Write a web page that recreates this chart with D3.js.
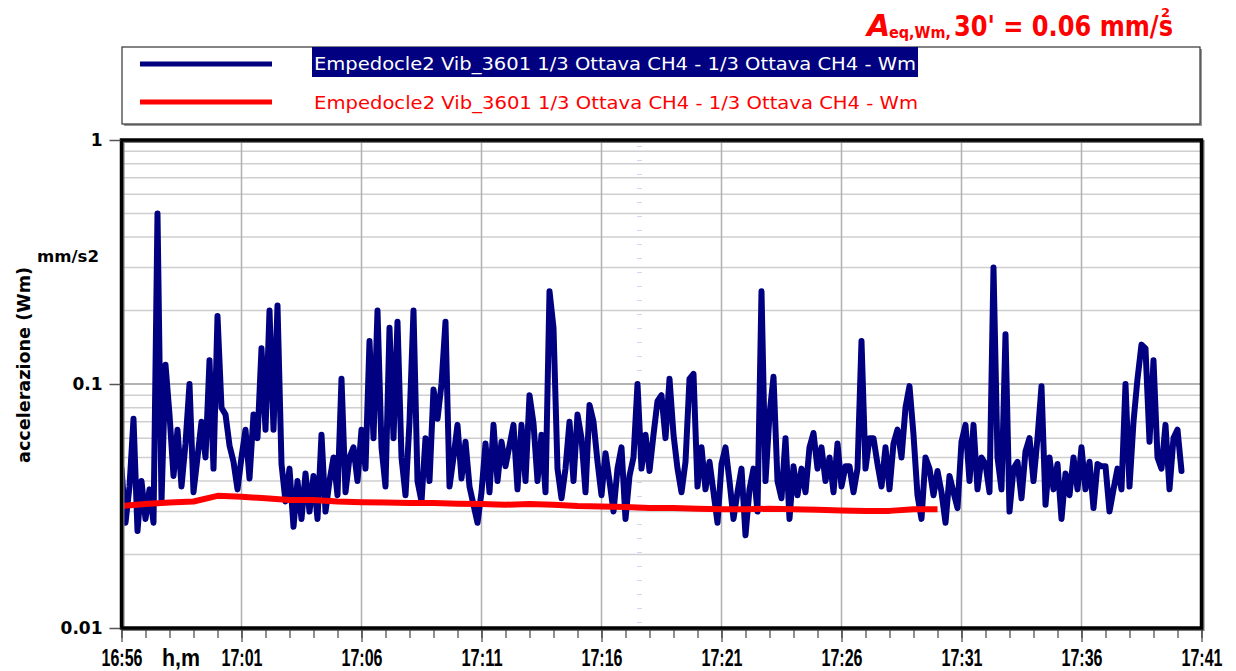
<!DOCTYPE html>
<html>
<head>
<meta charset="utf-8">
<script src="https://cdn.jsdelivr.net/npm/d3@7"></script>
<style>
  body { margin: 0; background: #fff; }
</style>
</head>
<body>
<script>
// acceleration, Wm weighted, mm/s2 - one reading every 10 s from 16:56:00
var blueStart = "16:56:00";
var blueStep = 10;
var blueValues = [
  0.045, 0.027, 0.038, 0.072, 0.025, 0.04, 0.028, 0.037, 0.027, 0.5,
  0.033, 0.12, 0.075, 0.042, 0.065, 0.038, 0.057, 0.10, 0.036, 0.05,
  0.07, 0.05, 0.125, 0.045, 0.19, 0.08, 0.075, 0.056, 0.048, 0.037,
  0.05, 0.065, 0.041, 0.075, 0.06, 0.14, 0.065, 0.2, 0.065, 0.21,
  0.047, 0.033, 0.045, 0.026, 0.04, 0.028, 0.043, 0.03, 0.042, 0.028,
  0.062, 0.03, 0.04, 0.05, 0.035, 0.105, 0.036, 0.05, 0.055, 0.04,
  0.065, 0.045, 0.15, 0.06, 0.2, 0.055, 0.038, 0.17, 0.06, 0.18,
  0.05, 0.035, 0.07, 0.2, 0.04, 0.033, 0.06, 0.04, 0.095, 0.072,
  0.1, 0.18, 0.038, 0.05, 0.068, 0.041, 0.058, 0.038, 0.032, 0.027,
  0.036, 0.057, 0.036, 0.068, 0.04, 0.058, 0.046, 0.056, 0.068, 0.037,
  0.068, 0.04, 0.09, 0.069, 0.04, 0.062, 0.036, 0.24, 0.17, 0.045,
  0.034, 0.045, 0.07, 0.04, 0.075, 0.06, 0.036, 0.082, 0.07, 0.048,
  0.035, 0.052, 0.04, 0.03, 0.045, 0.055, 0.028, 0.042, 0.05, 0.1,
  0.045, 0.062, 0.044, 0.062, 0.085, 0.09, 0.06, 0.105, 0.062, 0.045,
  0.036, 0.048, 0.105, 0.11, 0.038, 0.055, 0.037, 0.048, 0.036, 0.027,
  0.047, 0.055, 0.04, 0.028, 0.036, 0.045, 0.024, 0.037, 0.045, 0.03,
  0.24, 0.04, 0.075, 0.107, 0.04, 0.034, 0.06, 0.028, 0.046, 0.035,
  0.045, 0.036, 0.055, 0.063, 0.045, 0.055, 0.04, 0.05, 0.036, 0.057,
  0.038, 0.046, 0.046, 0.036, 0.045, 0.15, 0.045, 0.06, 0.06, 0.047,
  0.038, 0.055, 0.037, 0.057, 0.065, 0.05, 0.08, 0.098, 0.062, 0.035,
  0.028, 0.05, 0.045, 0.035, 0.044, 0.036, 0.027, 0.042, 0.036, 0.031,
  0.058, 0.068, 0.04, 0.068, 0.037, 0.05, 0.047, 0.036, 0.3, 0.05,
  0.037, 0.16, 0.03, 0.045, 0.048, 0.034, 0.053, 0.06, 0.04, 0.06,
  0.098, 0.032, 0.05, 0.037, 0.047, 0.028, 0.043, 0.035, 0.05, 0.037,
  0.055, 0.037, 0.048, 0.031, 0.047, 0.046, 0.046, 0.03, 0.037, 0.045,
  0.037, 0.1, 0.038, 0.07, 0.105, 0.145, 0.14, 0.058, 0.125, 0.05,
  0.045, 0.068, 0.037, 0.06, 0.065, 0.044
];

// running equivalent level, one reading every minute
var redStart = "16:56:00";
var redStep = 60;
var redValues = [
  0.0316, 0.0322, 0.0327, 0.033, 0.0348, 0.0345, 0.034, 0.0335, 0.0335, 0.033,
  0.0328, 0.0327, 0.0325, 0.0325, 0.0323, 0.0322, 0.032, 0.0322, 0.032, 0.0316,
  0.0315, 0.0313, 0.031, 0.031, 0.0308, 0.0307, 0.0307, 0.0308, 0.0307, 0.0305,
  0.0303, 0.0302, 0.0302, 0.0307, 0.0307
];

var xTickLabels = ["16:56", "17:01", "17:06", "17:11", "17:16", "17:21", "17:26", "17:31", "17:36", "17:41"];
var yTickValues = [0.01, 0.1, 1];
var yTickLabels = ["0.01", "0.1", "1"];
var cursorTime = "17:17:35";

var seriesName = "Empedocle2 Vib_3601 1/3 Ottava CH4 - 1/3 Ottava CH4 - Wm";

var width = 1236;
var height = 671;
var pLeft = 121.5, pRight = 1201.5, pTop = 140, pBottom = 628;
var comic = "'Comic Sans MS', 'DejaVu Sans', sans-serif";
var narrow = "'Liberation Sans Narrow', 'Arial Narrow', sans-serif";

var parseTime = d3.timeParse("%H:%M:%S");
var parseHM = d3.timeParse("%H:%M");

const svg = d3.select("body")
    .append("svg")
    .attr("width", width)
    .attr("height", height)
    .style("font-family", comic);

const x = d3.scaleTime()
    .domain([parseHM(xTickLabels[0]), parseHM(xTickLabels[xTickLabels.length - 1])])
    .range([pLeft, pRight]);

const y = d3.scaleLog()
    .domain([0.01, 1])
    .range([pBottom, pTop]);

var t0 = parseTime(blueStart);
var blueData = blueValues.map(function (v, i) { return { t: d3.timeSecond.offset(t0, i * blueStep), v: v }; });
var r0 = parseTime(redStart);
var redData = redValues.map(function (v, i) { return { t: d3.timeSecond.offset(r0, i * redStep), v: v }; });

// title
const title = svg.append("g").attr("fill", "#ff0000").attr("font-weight", "bold");
title.append("text").attr("x", 867).attr("y", 36)
    .attr("font-size", 30).attr("font-style", "italic").text("A");
title.append("text").attr("x", 889).attr("y", 38)
    .attr("font-size", 16).attr("textLength", 62).attr("lengthAdjust", "spacingAndGlyphs").text("eq,Wm,");
title.append("text").attr("x", 954).attr("y", 36)
    .attr("font-size", 29).attr("textLength", 219).attr("lengthAdjust", "spacingAndGlyphs").text("30' = 0.06 mm/s");
title.append("text").attr("x", 1161).attr("y", 17)
    .attr("font-size", 13).text("2");

// legend
svg.append("rect").attr("x", 124).attr("y", 49).attr("width", 1078).attr("height", 77)
    .attr("fill", "#999");
svg.append("rect").attr("x", 122).attr("y", 47).attr("width", 1078).attr("height", 77)
    .attr("fill", "#fff").attr("stroke", "#333").attr("stroke-width", 1.2);
svg.append("line").attr("x1", 140).attr("x2", 272).attr("y1", 64).attr("y2", 64)
    .attr("stroke", "#000080").attr("stroke-width", 5);
svg.append("rect").attr("x", 312).attr("y", 47).attr("width", 606).attr("height", 30)
    .attr("fill", "#000080");
svg.append("text").attr("x", 314).attr("y", 70).attr("font-size", 17).attr("fill", "#fff")
    .attr("textLength", 602).attr("lengthAdjust", "spacingAndGlyphs").text(seriesName);
svg.append("line").attr("x1", 140).attr("x2", 272).attr("y1", 102).attr("y2", 102)
    .attr("stroke", "#ff0000").attr("stroke-width", 5);
svg.append("text").attr("x", 314).attr("y", 109).attr("font-size", 17).attr("fill", "#ff0000")
    .attr("textLength", 604).attr("lengthAdjust", "spacingAndGlyphs").text(seriesName);

// grid
const grid = svg.append("g");
grid.selectAll(".hg")
    .data(y.ticks().filter(function (d) { return d > 0.0101 && d < 0.99; }))
    .enter()
    .append("line")
    .attr("x1", pLeft).attr("x2", pRight)
    .attr("y1", function (d) { return y(d); })
    .attr("y2", function (d) { return y(d); })
    .attr("stroke", function (d) { return Math.abs(d - 0.1) < 1e-9 ? "#9a9a9a" : "#cfcfcf"; })
    .attr("stroke-width", 1.5);
grid.selectAll(".vg")
    .data(xTickLabels.slice(1, -1))
    .enter()
    .append("line")
    .attr("x1", function (d) { return x(parseHM(d)); })
    .attr("x2", function (d) { return x(parseHM(d)); })
    .attr("y1", pTop).attr("y2", pBottom)
    .attr("stroke", "#b0b0b0")
    .attr("stroke-width", 1.5);
grid.append("line")
    .attr("x1", x(parseTime(cursorTime))).attr("x2", x(parseTime(cursorTime)))
    .attr("y1", pTop + 6).attr("y2", pBottom)
    .attr("stroke", "#d4d4f4").attr("stroke-width", 5).attr("stroke-dasharray", "1 13");

// series
svg.append("clipPath").attr("id", "plotclip")
    .append("rect").attr("x", pLeft).attr("y", pTop).attr("width", pRight - pLeft).attr("height", pBottom - pTop);

const line = d3.line()
    .x(function (d) { return x(d.t); })
    .y(function (d) { return y(d.v); });

svg.append("path").datum(blueData)
    .attr("clip-path", "url(#plotclip)")
    .attr("d", line)
    .attr("fill", "none")
    .attr("stroke", "#000080")
    .attr("stroke-width", 6)
    .attr("stroke-linejoin", "round")
    .attr("stroke-linecap", "round");

svg.append("path").datum(redData)
    .attr("clip-path", "url(#plotclip)")
    .attr("d", line)
    .attr("fill", "none")
    .attr("stroke", "#ff0000")
    .attr("stroke-width", 6)
    .attr("stroke-linejoin", "round");

// frame
svg.append("rect").attr("x", pLeft + 1.5).attr("y", pTop + 1.5).attr("width", pRight - pLeft).attr("height", pBottom - pTop)
    .attr("fill", "none").attr("stroke", "#777").attr("stroke-width", 3);
svg.append("rect").attr("x", pLeft).attr("y", pTop).attr("width", pRight - pLeft).attr("height", pBottom - pTop)
    .attr("fill", "none").attr("stroke", "#000").attr("stroke-width", 3.5);

// axes
const yAxis = svg.append("g")
    .attr("transform", "translate(" + (pLeft - 1) + ",0)")
    .call(d3.axisLeft(y).tickValues(yTickValues)
        .tickFormat(function (d, i) { return yTickLabels[i]; })
        .tickSize(11).tickPadding(7));
yAxis.select(".domain").remove();
yAxis.selectAll("line").attr("stroke", "#555").attr("stroke-width", 1.5);
yAxis.selectAll("text").attr("font-family", comic).attr("font-size", 17)
    .attr("font-weight", "bold").attr("fill", "#000");

const xMinor = svg.append("g")
    .attr("transform", "translate(0," + (pBottom + 2) + ")")
    .call(d3.axisBottom(x).ticks(d3.timeMinute.every(1)).tickSize(8).tickFormat(""));
xMinor.select(".domain").remove();
xMinor.selectAll("line").attr("stroke", "#444").attr("stroke-width", 1.2);

const xAxis = svg.append("g")
    .attr("transform", "translate(0," + (pBottom + 2) + ")")
    .call(d3.axisBottom(x).tickValues(xTickLabels.map(parseHM))
        .tickFormat(function (d, i) { return xTickLabels[i]; })
        .tickSize(12).tickPadding(7));
xAxis.select(".domain").remove();
xAxis.selectAll("line").attr("stroke", "#444").attr("stroke-width", 1.2);
xAxis.selectAll("text")
    .attr("font-family", narrow)
    .attr("font-size", 24).attr("font-weight", "bold").attr("fill", "#000")
    .attr("textLength", 41).attr("lengthAdjust", "spacingAndGlyphs");

svg.append("text").attr("x", 181).attr("y", 666).attr("text-anchor", "middle")
    .attr("font-family", narrow)
    .attr("font-size", 24).attr("font-weight", "bold")
    .attr("textLength", 38).attr("lengthAdjust", "spacingAndGlyphs").text("h,m");

// axis titles
svg.append("text")
    .attr("transform", "translate(30,365) rotate(-90)")
    .attr("text-anchor", "middle")
    .attr("font-size", 17).attr("font-weight", "bold")
    .attr("textLength", 196).attr("lengthAdjust", "spacingAndGlyphs")
    .text("accelerazione (Wm)");
svg.append("text").attr("x", 37).attr("y", 262)
    .attr("font-size", 16).attr("font-weight", "bold")
    .attr("textLength", 62).attr("lengthAdjust", "spacingAndGlyphs")
    .text("mm/s2");
</script>
</body>
</html>
